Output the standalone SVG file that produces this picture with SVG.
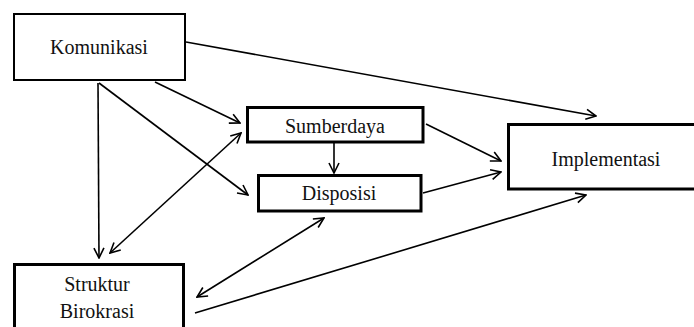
<svg xmlns="http://www.w3.org/2000/svg" width="694" height="327" viewBox="0 0 694 327">
<defs>
<marker id="ah" viewBox="0 0 12 12" refX="11" refY="6" markerWidth="12" markerHeight="12" markerUnits="userSpaceOnUse" orient="auto-start-reverse">
<path d="M1,1 L11,6 L1,11" fill="none" stroke="#000" stroke-width="1.6"/>
</marker>
</defs>
<style>
.box{fill:#fff;stroke:#000;stroke-width:3}
.thin{stroke-width:2}
.lbl{font-family:'Times New Roman','Liberation Serif',serif;font-size:20px;fill:#111;text-anchor:middle}
.c{fill:none;stroke:#000;stroke-width:1.6}
</style>
<rect width="694" height="327" fill="#fff"/>
<g id="connectors">
<line class="c" x1="186" y1="42" x2="596" y2="116" marker-end="url(#ah)"/>
<line class="c" x1="155" y1="82" x2="240" y2="123" marker-end="url(#ah)"/>
<line class="c" x1="99" y1="83" x2="248" y2="195" marker-end="url(#ah)"/>
<line class="c" x1="98" y1="83" x2="99" y2="258" marker-end="url(#ah)"/>
<line class="c" x1="241" y1="133" x2="110" y2="253" marker-start="url(#ah)" marker-end="url(#ah)"/>
<line class="c" x1="324" y1="218" x2="197" y2="297" marker-start="url(#ah)" marker-end="url(#ah)"/>
<line class="c" x1="195" y1="313" x2="586" y2="195" marker-end="url(#ah)"/>
<line class="c" x1="426" y1="124" x2="501" y2="161" marker-end="url(#ah)"/>
<line class="c" x1="423" y1="193" x2="501" y2="172" marker-end="url(#ah)"/>
<line class="c" x1="334" y1="143" x2="334" y2="173" marker-end="url(#ah)"/>
</g>
<g id="komunikasi">
<rect class="box thin" x="14" y="14" width="171" height="66"/>
<text class="lbl" x="99" y="54">Komunikasi</text>
</g>
<g id="sumberdaya">
<rect class="box" x="247.5" y="107.5" width="175.5" height="34.5"/>
<text class="lbl" x="335" y="133">Sumberdaya</text>
</g>
<g id="disposisi">
<rect class="box" x="258.5" y="175.5" width="162.5" height="35.5"/>
<text class="lbl" x="339" y="200">Disposisi</text>
</g>
<g id="implementasi">
<rect class="box" x="508.5" y="124.5" width="200" height="64.5"/>
<text class="lbl" x="606" y="166">Implementasi</text>
</g>
<g id="struktur">
<rect class="box" x="14.5" y="264.5" width="169" height="80"/>
<text class="lbl" x="97" y="291">Struktur</text>
<text class="lbl" x="97" y="318">Birokrasi</text>
</g>
</svg>
